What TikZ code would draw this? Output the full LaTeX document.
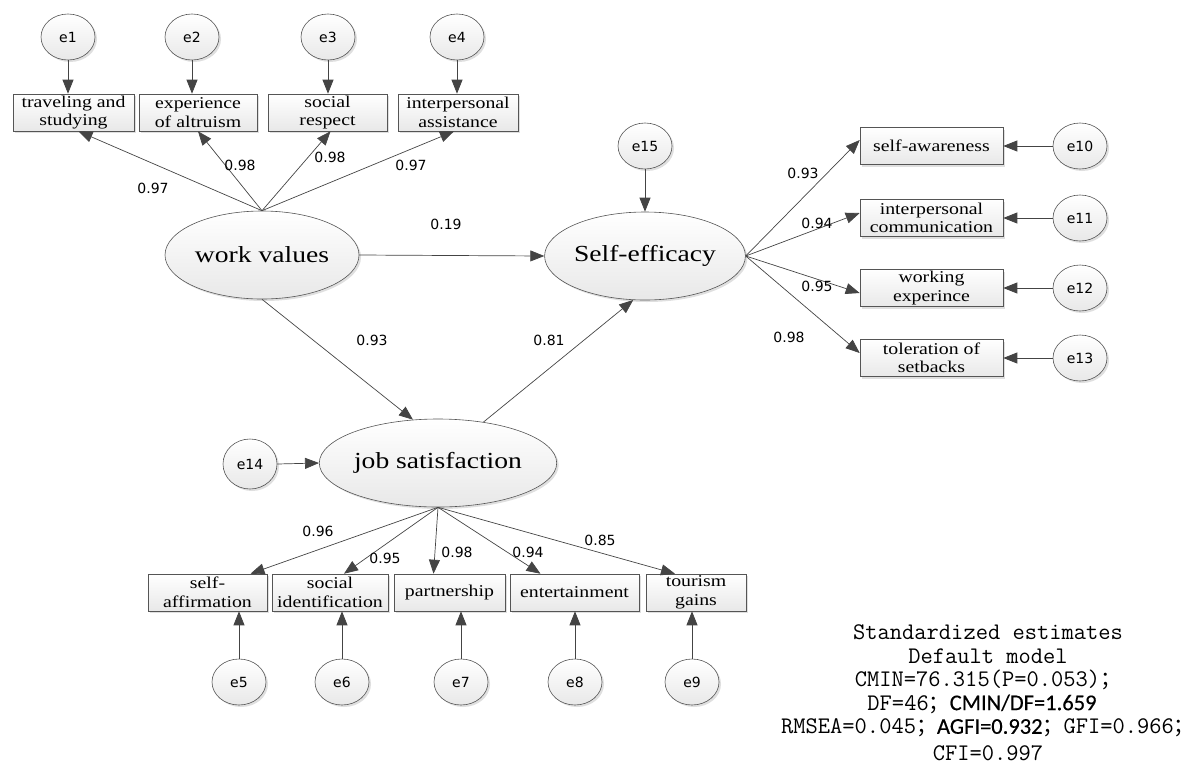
\documentclass[tikz,border=0pt]{standalone}
\usepackage{fontspec}
\usetikzlibrary{arrows.meta,shadows,calc,shapes.geometric}
\newfontfamily\serifbox[FakeStretch=1.2]{Liberation Serif}
\newfontfamily\numfont{DejaVu Sans}
\newfontfamily\monofont{Latin Modern Mono}
\newfontfamily\calfont[FakeBold=0.4]{Carlito}
\newfontfamily\cjkfont{Noto Sans CJK SC}
\definecolor{linec}{HTML}{444444}
\definecolor{bordc}{HTML}{555555}
\begin{document}
\begin{tikzpicture}[x=1pt,y=-1pt,
  every node/.style={inner sep=0pt},
  sh/.style={drop shadow={shadow xshift=2pt,shadow yshift=-2pt,fill=gray!35,opacity=0.7}},
  obs/.style={rectangle,draw=bordc,line width=0.6pt,top color=white,bottom color=gray!18,sh,
    minimum width=#1,minimum height=37pt,align=center,
    font=\serifbox\fontsize{16.5}{18.5}\selectfont},
  lat/.style={ellipse,draw=bordc,line width=0.6pt,top color=white,bottom color=gray!18,sh,
    minimum width=194pt,minimum height=88pt,
    font=\serifbox\fontsize{23}{25}\selectfont},
  err/.style={ellipse,draw=bordc,line width=0.6pt,top color=white,bottom color=gray!18,sh,
    minimum width=54pt,minimum height=#1,
    font=\numfont\fontsize{14}{16}\selectfont},
  err/.default=46pt,
  arr/.style={draw=linec,line width=0.7pt,-{Triangle[length=14pt,width=11pt,fill=linec]}},
  lbl/.style={font=\numfont\fontsize{14}{16}\selectfont},
  fit1/.style={font=\monofont\fontsize{23.8}{26}\selectfont},
  cal/.style={font=\calfont\fontsize{22.5}{26}\selectfont}
]
\useasboundingbox (0,0) rectangle (1198,769);

% latent variables
\node[lat] (wv) at (262,255) {work values};
\node[lat] (se) at (645,256) {Self-efficacy};
\node[lat] (js) at (438,463) {job satisfaction};

% top indicators
\node[obs=121pt] (t1) at (73.5,112.5) {traveling and\\studying};
\node[obs=118pt] (t2) at (198,112.5) {experience\\of altruism};
\node[obs=119pt] (t3) at (327.5,112.5) {social\\respect};
\node[obs=120pt] (t4) at (458,112.5) {interpersonal\\assistance};
\node[err] (e1) at (68,37) {e1};
\node[err] (e2) at (192,37) {e2};
\node[err] (e3) at (328,37) {e3};
\node[err] (e4) at (457,37) {e4};

% right indicators
\node[obs=143pt] (r1) at (931.5,146) {self-awareness};
\node[obs=143pt] (r2) at (931.5,218) {interpersonal\\communication};
\node[obs=143pt] (r3) at (931.5,288) {working\\experince};
\node[obs=143pt] (r4) at (931.5,358) {toleration of\\setbacks};
\node[err] (e10) at (1080,146) {e10};
\node[err] (e11) at (1080,218) {e11};
\node[err] (e12) at (1080,288) {e12};
\node[err] (e13) at (1080,358) {e13};

% bottom indicators
\node[obs=119pt] (b1) at (207.5,592.5) {self-\\affirmation};
\node[obs=116pt] (b2) at (330,592.5) {social\\identification};
\node[obs=111pt] (b3) at (449.5,592.5) {partnership};
\node[obs=129pt] (b4) at (574.5,592.5) {entertainment};
\node[obs=100pt] (b5) at (696,592.5) {tourism\\gains};
\node[err] (e5) at (239,682) {e5};
\node[err] (e6) at (342,682) {e6};
\node[err] (e7) at (461,682) {e7};
\node[err] (e8) at (575,682) {e8};
\node[err] (e9) at (692,682) {e9};

% disturbances
\node[err=50pt] (e14) at (250,464) {e14};
\node[err] (e15) at (645,146) {e15};

% error arrows
\foreach \e/\b in {e1/t1,e2/t2,e3/t3,e4/t4}
  \draw[arr] (\e.south) -- (\e.south |- \b.north);
\foreach \e/\b in {e10/r1,e11/r2,e12/r3,e13/r4}
  \draw[arr] (\e.west) -- (\e.west -| \b.east);
\foreach \e/\b in {e5/b1,e6/b2,e7/b3,e8/b4,e9/b5}
  \draw[arr] (\e.north) -- (\e.north |- \b.south);
\draw[arr] (e14.east) -- (js.west);
\draw[arr] (e15.south) -- (se.north);

% loadings of work values
\draw[arr] (wv.north) -- ($(t1.south)+(5,0)$);
\draw[arr] (wv.north) -- ($(t2.south)+(0,0)$);
\draw[arr] (wv.north) -- ($(t3.south)+(3,0)$);
\draw[arr] (wv.north) -- ($(t4.south)+(-4,0)$);
\node[lbl] (l1) at (153,188) {0.97};
\node[lbl] (l2) at (240,165) {0.98};
\node[lbl] (l3) at (330,157) {0.98};
\node[lbl] (l4) at (411,165) {0.97};

% structural paths
\draw[arr] (wv.east) -- (se.west);
\draw[arr] (wv.south) -- (js.120);
\draw[arr] (js.42) -- (se.255);
\node[lbl] (l5) at (446,224) {0.19};
\node[lbl] (l6) at (372,340) {0.93};
\node[lbl] (l7) at (549,340) {0.81};

% loadings of self-efficacy
\draw[arr] (se.east) -- ($(r1.west)+(0,-6)$);
\draw[arr] (se.east) -- ($(r2.west)+(0,-5)$);
\draw[arr] (se.east) -- ($(r3.west)+(0,5)$);
\draw[arr] (se.east) -- ($(r4.west)+(0,-5)$);
\node[lbl] (l8) at (803,173) {0.93};
\node[lbl] (l9) at (817,223) {0.94};
\node[lbl] (l10) at (817,286) {0.95};
\node[lbl] (l11) at (789,337) {0.98};

% loadings of job satisfaction
\draw[arr] (js.south) -- ($(b1.north)+(43,0)$);
\draw[arr] (js.south) -- ($(b2.north)+(14,0)$);
\draw[arr] (js.south) -- ($(b3.north)+(-16,0)$);
\draw[arr] (js.south) -- ($(b4.north)+(-34,0)$);
\draw[arr] (js.south) -- ($(b5.north)+(-21,0)$);
\node[lbl] (l12) at (318,531) {0.96};
\node[lbl] (l13) at (385,558) {0.95};
\node[lbl] (l14) at (457,552) {0.98};
\node[lbl] (l15) at (528,552) {0.94};
\node[lbl] (l16) at (600,540) {0.85};

% fit statistics
\node[fit1] (f1) at (988,632) {Standardized estimates};
\node[fit1] (f2) at (988,656) {Default model};
\node[fit1] (f3) at (988,680) {CMIN=76.315(P=0.053){\cjkfont\fontsize{21}{24}\selectfont ；}};
\node[fit1] (f4) at (982,704) {DF=46{\cjkfont\fontsize{21}{24}\selectfont ；}{\calfont\fontsize{22.5}{26}\selectfont CMIN/DF=1.659}};
\node[fit1] (f5) at (988,728) {RMSEA=0.045{\cjkfont\fontsize{21}{24}\selectfont ；}{\calfont\fontsize{22.5}{26}\selectfont AGFI=0.932}{\cjkfont\fontsize{21}{24}\selectfont ；}GFI=0.966{\cjkfont\fontsize{21}{24}\selectfont ；}};
\node[fit1] (f6) at (988,753) {CFI=0.997};
\end{tikzpicture}
\end{document}
